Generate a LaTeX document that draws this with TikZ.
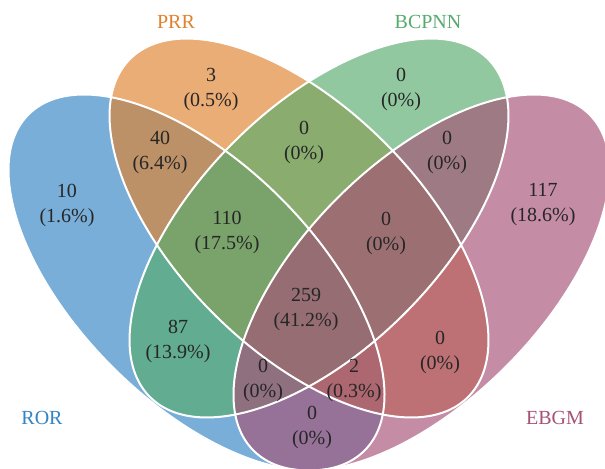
\documentclass[tikz,border=0pt]{standalone}
\usepackage{fontspec}
\setmainfont{Liberation Serif}
\definecolor{RorBlue}{RGB}{50,132,197}
\definecolor{PrrOrange}{RGB}{224,130,44}
\definecolor{BcpGreen}{RGB}{87,172,109}
\definecolor{EbgmPink}{RGB}{166,81,118}

\begin{document}
\begin{tikzpicture} [x=0.5pt,y=-0.5pt,
			setfill/.style={fill opacity=0.65},
			rim/.style={draw=white,line width=1pt},
			num/.style={align=center,font=\fontsize{10}{12.5}\selectfont,text=black!85},
			lab/.style={font=\fontsize{10}{12}\selectfont}
		]
			\fill[white] (0,0) rectangle (605,468);
			\useasboundingbox (0,0) rectangle (605,468);
			\begin{scope}
			\clip (0,0) rectangle (605,468);
			\fill[RorBlue,setfill,rotate around={-45:(196.5,282.5)}] (196.5,282.5) ellipse (237.6 and 119.2);
			\fill[PrrOrange,setfill,rotate around={-45:(299,228)}] (299,228) ellipse (239 and 121);
			\fill[BcpGreen,setfill,rotate around={45:(319,228)}] (319,228) ellipse (239 and 121);
			\fill[EbgmPink,setfill,rotate around={45:(421.5,282.5)}] (421.5,282.5) ellipse (237.6 and 119.2);
			\draw[rim,rotate around={-45:(196.5,282.5)}] (196.5,282.5) ellipse (237.6 and 119.2);
			\draw[rim,rotate around={-45:(299,228)}] (299,228) ellipse (239 and 121);
			\draw[rim,rotate around={45:(319,228)}] (319,228) ellipse (239 and 121);
			\draw[rim,rotate around={45:(421.5,282.5)}] (421.5,282.5) ellipse (237.6 and 119.2);
			\end{scope}
			% set names
			\node at (176,22) [lab,text=PrrOrange] (prrlab) {PRR};
			\node at (428,22) [lab,text=BcpGreen] (bcplab) {BCPNN};
			\node at (42,418) [lab,text=RorBlue] (rorlab) {ROR};
			\node at (555,418) [lab,text=EbgmPink] (ebgmlab) {EBGM};
			% counts
			\node at (67,205) [num] (ror) {10\\(1.6\%)};
			\node at (211,89) [num] (prr) {3\\(0.5\%)};
			\node at (401,89) [num] (bcp) {0\\(0\%)};
			\node at (543,205) [num] (ebgm) {117\\(18.6\%)};
			\node at (160,152) [num] (rorprr) {40\\(6.4\%)};
			\node at (304,142) [num] (prrbcp) {0\\(0\%)};
			\node at (447,152) [num] (bcpebgm) {0\\(0\%)};
			\node at (227,232) [num] (rorprrbcp) {110\\(17.5\%)};
			\node at (386,233) [num] (prrbcpebgm) {0\\(0\%)};
			\node at (306,309) [num] (all) {259\\(41.2\%)};
			\node at (178,341) [num] (rorbcp) {87\\(13.9\%)};
			\node at (440,352) [num] (prrebgm) {0\\(0\%)};
			\node at (263,380) [num] (rorbcpebgm) {0\\(0\%)};
			\node at (354,380) [num] (rorprrebgm) {2\\(0.3\%)};
			\node at (312,427) [num] (rorebgm) {0\\(0\%)};
		\end{tikzpicture}
\end{document}
